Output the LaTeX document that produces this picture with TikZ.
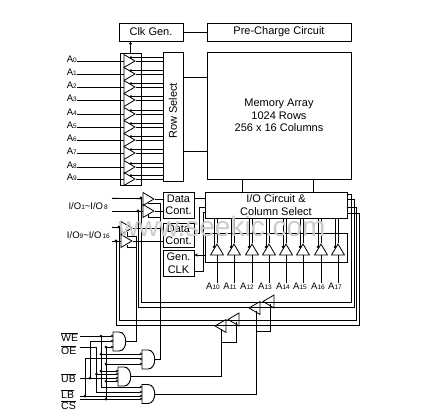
\documentclass[tikz,border=0pt]{standalone}
\usepackage{fontspec}
\setmainfont{Liberation Sans}
\usetikzlibrary{shapes.geometric,arrows.meta}
\newcommand{\Lab}[2]{{\fontsize{9.5}{10}\selectfont #1\fontsize{6.5}{7}\selectfont #2}}
\newcommand{\Bar}[1]{$\overline{\hbox{\fontsize{10.5}{11}\selectfont #1}}$}
\tikzset{
  x=1pt,y=-1pt,line width=1pt,
  boxn/.style={draw,line width=1pt,inner sep=0,align=center,font=\fontsize{11}{12.5}\selectfont},
  tri/.style={draw,isosceles triangle,isosceles triangle stretches,inner sep=0,minimum height=11,minimum width=13,line width=0.8pt},
  trir/.style={tri,shape border rotate=0,anchor=apex},
  tril/.style={tri,shape border rotate=180,anchor=apex},
  triu/.style={tri,shape border rotate=90,anchor=apex},
  sig/.style={inner sep=0}
}
\newcommand{\andgate}[3]{%
  \draw[line width=0.9pt] (#2,#3-9.5) -- (#2+6,#3-9.5) .. controls (#2+15,#3-9.5) and (#2+15,#3+9.5) .. (#2+6,#3+9.5) -- (#2,#3+9.5) -- cycle;
  \coordinate (#1in) at (#2,#3);
  \coordinate (#1out) at (#2+13,#3);
}
\begin{document}
\begin{tikzpicture}
\useasboundingbox (0,0) rectangle (424,418);
% blocks
\node[boxn,minimum width=64,minimum height=18] (clk) at (151,32) {Clk Gen.};
\node[boxn,minimum width=144,minimum height=18] (pre) at (279,32) {Pre-Charge Circuit};
\node[boxn,minimum width=144,minimum height=127] (mem) at (279,115.5) {Memory Array\\1024 Rows\\256 x 16 Columns};
\node[boxn,minimum width=20,minimum height=129] (row) at (173,116.5) {};
\node[rotate=90,font=\fontsize{11}{13}\selectfont,inner sep=0] (rowt) at (173,111) {Row Select};
\node[draw,line width=1pt,minimum width=21,minimum height=132,inner sep=0] (bufcol) at (130.5,119) {};
\node[boxn,minimum width=31,minimum height=26] (d1) at (178.5,205) {Data\\Cont.};
\node[boxn,minimum width=31,minimum height=24] (d2) at (178.5,235) {Data\\Cont.};
\node[boxn,minimum width=31,minimum height=26] (gen) at (178.5,263) {Gen.\\CLK};
\node[boxn,minimum width=142,minimum height=26] (io) at (276,205) {I/O Circuit \&\\Column Select};
\node[draw,line width=1pt,minimum width=142,minimum height=29,inner sep=0] (colrect) at (276,247.5) {};
% block links
\draw (clk.east) -- (pre.west);
\draw[-{Stealth[length=3pt,width=3pt]}] (bufcol.north) -- (bufcol.north |- clk.south);
\draw (row.east |- 0,77) -- (mem.west |- 0,77);
\draw (row.east |- 0,151) -- (mem.west |- 0,151);
\draw (242,179) -- (242,192);
\draw (313,179) -- (313,192);
% row address buffers
\foreach \i/\yy in {0/61,1/74,2/87,3/100,4/114,5/127,6/140,7/153,8/167,9/179}{
  \node[trir] (bf\i) at (136,\yy) {};
  \node[anchor=east,inner sep=0] (a\i) at (77,\yy-2) {\Lab{A}{\i}};
  \draw (a\i.east |- bf\i.lower side) -- (bf\i.lower side);
  \draw (bf\i.apex) -- (row.west |- bf\i.apex);
  \coordinate (up\i) at (131,\yy-3.5);
  \draw (up\i) -- (row.west |- up\i);
  \fill (up\i) circle (1.3);
}
% column address buffers
\foreach \n/\xx/\lx/\t in {0/217/213/10,1/234/230/11,2/252/247/12,3/269/265/13,4/286/283/14,5/303/300/15,6/321/318/16,7/338/335/17}{
  \node[triu] (ct\n) at (\xx,243) {};
  \node[inner sep=0] (ca\n) at (\lx,286) {\Lab{A}{\t}};
  \draw (ct\n.lower side) -- (ct\n.lower side |- ca\n.north);
  \draw (ct\n.apex) -- (ct\n.apex |- io.south);
  \coordinate (cd\n) at (\xx-3,247);
  \draw (cd\n) -- (cd\n |- io.south);
  \fill (cd\n) circle (1.3);
}
% data buffers
\node[trir] (t1) at (155,199) {};
\node[trir] (t2) at (155,211) {};
\node[trir] (t3) at (133,228) {};
\node[trir] (t4) at (133,241) {};
\node[sig,anchor=east] (io1) at (108,206) {\Lab{I/O}{1}\Lab{\textasciitilde I/O}{\,8}};
\node[sig,anchor=east] (io9) at (110,235) {\Lab{I/O}{9}\Lab{\textasciitilde I/O}{\,16}};
\coordinate (s1) at (112,198);\coordinate (s2) at (112,211);\coordinate (s3) at (112,227);\coordinate (s4) at (112,241);
\draw (s1) -- (t1.lower side);
\draw (s2) -- (t2.lower side);
\draw (s3) -- (t3.lower side);
\draw (s4) -- (t4.lower side);
\draw (t1.apex) -- (d1.west |- t1.apex);
\draw (t2.apex) -- (d1.west |- t2.apex);
\draw (t3.apex) -- (d2.west |- t3.apex);
\draw (t4.apex) -- (d2.west |- t4.apex);
% right side buses
\node[tril] (la) at (262,301.5) {};
\node[tril] (lb) at (248,308) {};
\node[tril] (lc) at (227,319.5) {};
\node[tril] (ld) at (214,326) {};
\draw (io.east |- 0,194) -| (351,302) -- (141,302) |- (s1);
\draw (io.east |- 0,199) -| (354,307) -- (138,307) |- (s2);
\draw (io.east |- 0,207) -| (356,320) -- (119,320) |- (s3);
\draw (io.east |- 0,213) -| (359,325) -- (116,325) |- (s4);
\foreach \p/\q in {141/198,138/211,119/227,116/241} \fill (\p,\q) circle (1.6);
% left side of io
\draw (d1.east |- 0,198) -- (io.west |- 0,198);
\draw (d2.east |- 0,233) -| (199,207) -- (io.west |- 0,207);
\draw (gen.east |- 0,271) -| (203,212) -- (io.west |- 0,212);
\draw[-{Stealth[length=3pt,width=3pt]}] (colrect.west |- 0,255) -- (gen.east |- 0,255);
% gates
\andgate{ga}{113}{341.5}
\andgate{gb}{142}{359.5}
\andgate{gc}{118}{376.5}
\andgate{gd}{142}{394}
\node[anchor=west,inner sep=0] (we) at (61,337) {\Bar{WE}};
\node[anchor=west,inner sep=0] (oe) at (61,350) {\Bar{OE}};
\node[anchor=west,inner sep=0] (ub) at (61,378) {\Bar{UB}};
\node[anchor=west,inner sep=0] (lb) at (61,394) {\Bar{LB}};
\node[anchor=west,inner sep=0] (cs) at (61,405) {\Bar{CS}};
% gate outputs and enables
\draw (gaout) -| (136,236);
\draw (127,232) |- (136,236);
\draw (127,245) |- (136,247);
\draw (gbout) -| (160,203) -- (148,203);
\draw (148,214) |- (160,217);
\draw (gcout) -| (221,329);
\draw (236,322) |- (221,342);
\draw (gdout) -| (256,311);
\draw (270,304) |- (256,331);
% gate inputs
\draw (80,336) -- (113,336);
\draw (80,347) -- (96,347) -- (96,392) -- (142,392);
\draw (96,374) -- (118,374);
\draw (80,378) -- (118,378);
\draw (90,378) -- (90,341) -- (113,341);
\draw (80,396) -- (142,396);
\draw (85,396) -- (85,358) -- (142,358);
\draw (80,399) -- (142,399);
\draw (106,399) -- (106,347) -- (113,347);
\draw (106,364) -- (142,364);
\draw (106,381) -- (118,381);
\draw (101,336) -- (101,387) -- (142,387);
\draw (101,354) -- (142,354);
\draw (101,371) -- (118,371);
\foreach \p/\q in {101/336,106/347,90/378,85/396,106/399,101/354,106/364,101/371,106/381,96.5/374}
  \fill (\p,\q) circle (1.5);
\foreach \p/\q in {112/336,112/341,112/347,141/354,141/359,141/364,117/371,117/374,117/378,117/381,141/387,141/392,141/396,141/399}
  \draw[line width=0.5pt,fill=white] (\p,\q) circle (1.1);
% watermark
\node[text=gray!40,font=\fontsize{28}{28}\selectfont,inner sep=0] (wm) at (222,226) {www.seekic.com};
\end{tikzpicture}
\end{document}
